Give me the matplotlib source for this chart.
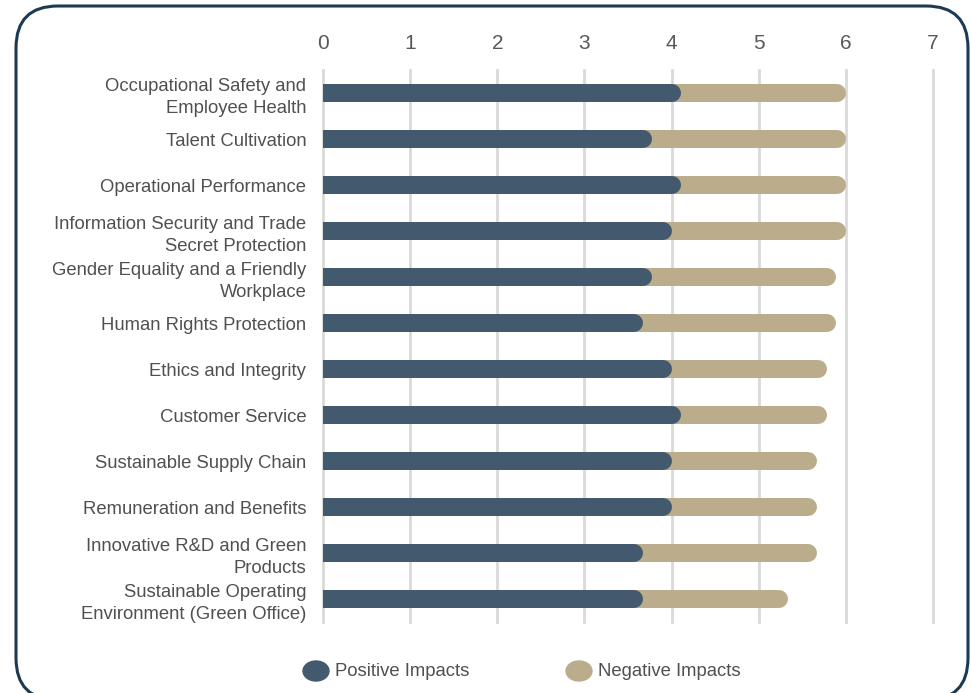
import matplotlib.pyplot as plt
from matplotlib.patches import FancyBboxPatch, Ellipse
from matplotlib.transforms import IdentityTransform

plt.rcParams['font.family'] = ['Liberation Sans', 'DejaVu Sans']

topics = [
    "Occupational Safety and\nEmployee Health",
    "Talent Cultivation",
    "Operational Performance",
    "Information Security and Trade\nSecret Protection",
    "Gender Equality and a Friendly\nWorkplace",
    "Human Rights Protection",
    "Ethics and Integrity",
    "Customer Service",
    "Sustainable Supply Chain",
    "Remuneration and Benefits",
    "Innovative R&D and Green\nProducts",
    "Sustainable Operating\nEnvironment (Green Office)",
]
positive = [4.11, 3.78, 4.11, 4.00, 3.78, 3.67, 4.00, 4.11, 4.00, 4.00, 3.67, 3.67]
negative = [1.89, 2.22, 1.89, 2.00, 2.11, 2.22, 1.78, 1.67, 1.67, 1.67, 2.00, 1.67]

pos_color = "#435a6e"
neg_color = "#bbad8c"
text_color = "#505050"
W, H = 971, 693

fig = plt.figure(figsize=(W / 100, H / 100), dpi=100)
ax = fig.add_axes([323 / W, 1 - 622 / H, 610 / W, 552 / H])
ax.set_xlim(0, 7)
ax.set_ylim(len(topics) - 0.5, -0.5)

# bars drawn as thick lines with round caps; the left cap is clipped at x=0
bar_px = 18
px_per_unit = 610 / 7
r = bar_px / 2 / px_per_unit
lw = bar_px * 72 / 100
for i, (p, n) in enumerate(zip(positive, negative)):
    total = p + n
    ax.plot([0 - r, total - r], [i, i], color=neg_color, lw=lw,
            solid_capstyle='round', zorder=3)
    ax.plot([0 - r, p - r], [i, i], color=pos_color, lw=lw,
            solid_capstyle='round', zorder=4)

ax.set_xticks(range(8))
ax.xaxis.tick_top()
ax.tick_params(axis='x', length=0, pad=12, labelsize=15, labelcolor='#595959')
ax.set_yticks(range(len(topics)))
ax.set_yticklabels(topics, fontsize=13.3, color=text_color, linespacing=1.4)
ax.tick_params(axis='y', length=0, pad=12)
for x in range(8):
    ax.axvline(x, color='#d9d9d9', lw=2, zorder=0, clip_on=False)
for s in ax.spines.values():
    s.set_visible(False)

# legend
for x0, label, c in [(316, "Positive Impacts", pos_color), (579, "Negative Impacts", neg_color)]:
    fig.add_artist(Ellipse((x0 / W, 1 - 671 / H), 26 / W, 20 / H,
                           transform=fig.transFigure, color=c))
    fig.text((x0 + 19) / W, 1 - 671 / H, label, fontsize=13.3, color=text_color,
             va='center', ha='left')

# rounded frame, bottom edge sits just below the figure
frame = FancyBboxPatch((16, -7), 952, H - 6 + 7,
                       boxstyle="round,pad=0,rounding_size=42",
                       transform=IdentityTransform(), fill=False,
                       ec='#1d3a52', lw=2.2)
fig.add_artist(frame)

fig.savefig("out.png", dpi=100)
